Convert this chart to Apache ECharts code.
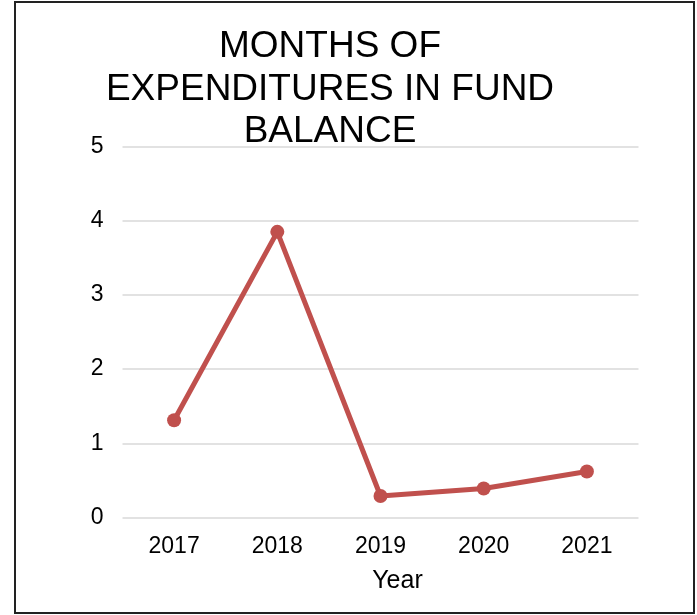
<!DOCTYPE html>
<html>
<head>
<meta charset="utf-8">
<script src="https://cdn.jsdelivr.net/npm/echarts@6/dist/echarts.min.js"></script>
<style>
html,body{margin:0;padding:0;background:#fff;}
#c{width:697px;height:615px;}
</style>
</head>
<body>
<div id="c"></div>
<script>
var categories = ['2017', '2018', '2019', '2020', '2021'];
var values = [1.31, 3.85, 0.29, 0.39, 0.62];
var yTicks = [0, 1, 2, 3, 4, 5];
var titleLines = ['MONTHS OF', 'EXPENDITURES IN FUND', 'BALANCE'];
var xName = 'Year';

var chart = echarts.init(document.getElementById('c'), null, {renderer: 'canvas'});
var font = 'Liberation Sans, Arial, sans-serif';
chart.setOption({
  backgroundColor: '#fff',
  animation: false,
  title: {
    text: titleLines.join('\n'),
    left: 325,
    top: 21,
    textAlign: 'center',
    textStyle: {
      fontFamily: font,
      fontSize: 37,
      fontWeight: 'normal',
      color: '#000',
      lineHeight: 42.5
    }
  },
  graphic: [{
    type: 'rect',
    shape: {x: 15, y: 2, width: 679, height: 611},
    style: {fill: 'none', stroke: '#222', lineWidth: 2},
    z: 100
  }],
  grid: {left: 122.5, top: 146.5, width: 516, height: 371, containLabel: false},
  xAxis: {
    type: 'category',
    data: categories,
    boundaryGap: true,
    axisLine: {show: false},
    axisTick: {show: false},
    axisLabel: {color: '#000', fontFamily: font, fontSize: 23, margin: 18},
    name: xName,
    nameLocation: 'middle',
    nameGap: 51,
    nameTextStyle: {color: '#000', fontFamily: font, fontSize: 25, padding: [0, 0, 0, 34]}
  },
  yAxis: {
    type: 'value',
    min: yTicks[0],
    max: yTicks[yTicks.length - 1],
    interval: 1,
    axisLine: {show: false},
    axisTick: {show: false},
    axisLabel: {color: '#000', fontFamily: font, fontSize: 23, margin: 19},
    splitLine: {lineStyle: {color: '#d9d9d9', width: 1.5}}
  },
  series: [{
    type: 'line',
    data: values,
    symbol: 'circle',
    symbolSize: 14,
    lineStyle: {color: '#c0504d', width: 5},
    itemStyle: {color: '#c0504d'}
  }]
});
</script>
</body>
</html>
